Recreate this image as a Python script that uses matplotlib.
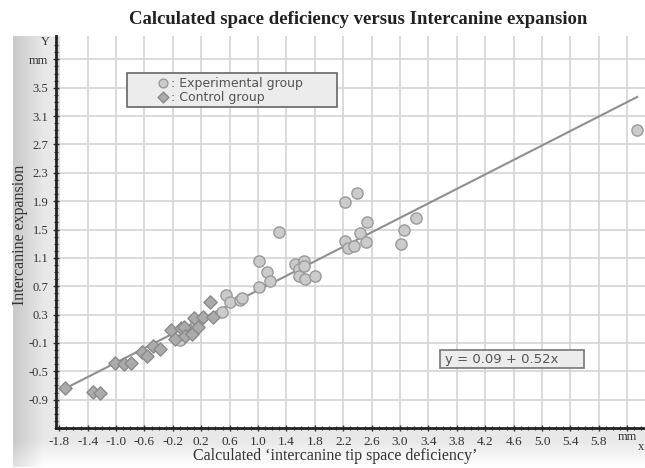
import numpy as np
import matplotlib.pyplot as plt
from matplotlib.patches import Rectangle

# experimental group (circles)
exp_x = [-0.10, 0.02, 0.12, 0.49, 0.55, 0.60, 0.74, 0.77, 1.02, 1.02, 1.12, 1.17, 1.29,
         1.52, 1.57, 1.58, 1.65, 1.65, 1.66, 1.80, 2.23, 2.39, 2.22, 2.26, 2.35, 2.43,
         2.53, 2.52, 3.01, 3.05, 3.23, 6.34]
exp_y = [-0.06, 0.05, 0.18, 0.34, 0.57, 0.48, 0.50, 0.53, 0.69, 1.05, 0.90, 0.77, 1.46,
         1.01, 0.95, 0.84, 1.05, 0.99, 0.80, 0.85, 1.89, 2.02, 1.34, 1.24, 1.27, 1.45,
         1.60, 1.32, 1.29, 1.50, 1.66, 2.91]
# control group (diamonds)
ctl_x = [-1.72, -1.33, -1.23, -1.01, -0.89, -0.79, -0.63, -0.56, -0.48, -0.38, -0.22,
         -0.17, -0.08, -0.04, -0.03, 0.07, 0.10, 0.16, 0.23, 0.33, 0.36]
ctl_y = [-0.73, -0.79, -0.80, -0.39, -0.40, -0.39, -0.23, -0.28, -0.14, -0.18, 0.08,
         -0.05, 0.11, 0.12, 0.00, 0.03, 0.25, 0.13, 0.26, 0.48, 0.26]

# regression line as drawn
line_x = [-1.75, 6.34]
line_y = [-0.76, 3.37]
equation = "y = 0.09 + 0.52x"

x_tick_labels = ['-1.8', '-1.4', '-1.0', '-0.6', '-0.2', '0.2', '0.6', '1.0', '1.4', '1.8',
                 '2.2', '2.6', '3.0', '3.4', '3.8', '4.2', '4.6', '5.0', '5.4', '5.8']
y_tick_labels = ['-0.9', '-0.5', '-0.1', '0.3', '0.7', '1.1', '1.5', '1.9', '2.3', '2.7',
                 '3.1', '3.5']

W, H = 645, 468
fig = plt.figure(figsize=(W / 100, H / 100), dpi=100)
fig.patch.set_facecolor('white')

# grey frame behind the plot area
bg = fig.add_axes([0, 0, 1, 1], zorder=-5)
px = np.arange(W)[None, :]
py = np.arange(H)[:, None]
g = 0.91 + np.zeros((H, W))
g = g - 0.12 * np.clip(1 - (px - 13) / 30, 0, 1)
g = g + 0.09 * np.clip((py - 440) / 26, 0, 1)
inside = (px >= 13) & (py >= 36) & (py <= 466)
g = np.where(inside, g, 1.0)
bg.imshow(np.dstack([g, g, g]), aspect='auto', extent=[0, W, H, 0])
bg.set_xlim(0, W)
bg.set_ylim(H, 0)
bg.axis('off')

ax = fig.add_axes([56 / W, 1 - 428 / H, (W - 56) / W, (428 - 36) / H])
ax.set_facecolor('white')
ax.set_xlim(-1.846, 6.45)
ax.set_ylim(-1.30, 4.23)

xt = [float(s) for s in x_tick_labels]
yt = [float(s) for s in y_tick_labels]
ax.set_xticks(xt + [6.2])
ax.set_xticklabels(x_tick_labels + [''])
ax.set_yticks(yt + [3.9])
ax.set_yticklabels(y_tick_labels + ['mm'])
ax.set_xticks(np.arange(-1.8, 6.45, 0.1), minor=True)
ax.set_yticks(np.arange(-1.3, 4.2, 0.1), minor=True)

ax.grid(True, which='major', color='#d4d4d4', lw=1.2, zorder=0)
for s in ['top', 'right']:
    ax.spines[s].set_visible(False)
for s in ['left', 'bottom']:
    ax.spines[s].set_linewidth(2)
    ax.spines[s].set_color('#222222')
ax.tick_params(which='major', direction='inout', length=5, width=1, color='#333333', pad=3)
ax.tick_params(which='minor', direction='inout', length=3, width=0.8, color='#333333')
for lab in ax.get_xticklabels() + ax.get_yticklabels():
    lab.set_fontfamily('Liberation Serif')
    lab.set_color('#333333')
for lab in ax.get_xticklabels():
    lab.set_fontsize(9.5)
for lab in ax.get_yticklabels():
    lab.set_fontsize(9)

ax.plot(line_x, line_y, color='#8f8f8f', lw=1.5, zorder=3)
ax.scatter(exp_x, exp_y, s=65, marker='o', facecolor='#cbcbcb', edgecolor='#9a9a9a',
           lw=1, zorder=4)
ax.scatter(ctl_x, ctl_y, s=45, marker='D', facecolor='#ababab', edgecolor='#8a8a8a',
           lw=1, zorder=4)

# legend box
def fx(p):
    return (p - 56) / (W - 56)

def fy(p):
    return (428 - p) / (428 - 36)

ax.add_patch(Rectangle((fx(127), fy(107)), fx(337) - fx(127), fy(73) - fy(107),
                       transform=ax.transAxes, facecolor='#ececec', edgecolor='#666666',
                       lw=1.2, zorder=6))
ax.scatter([fx(163)], [fy(83)], s=40, marker='o', facecolor='#cbcbcb', edgecolor='#9a9a9a',
           transform=ax.transAxes, zorder=7)
ax.scatter([fx(163)], [fy(97)], s=30, marker='D', facecolor='#ababab', edgecolor='#8a8a8a',
           transform=ax.transAxes, zorder=7)
ax.text(fx(171), fy(83), ': Experimental group', transform=ax.transAxes, fontsize=9,
        color='#555555', va='center', zorder=7)
ax.text(fx(171), fy(97), ': Control group', transform=ax.transAxes, fontsize=9,
        color='#555555', va='center', zorder=7)

# equation box
ax.add_patch(Rectangle((fx(440), fy(368)), fx(584) - fx(440), fy(350) - fy(368),
                       transform=ax.transAxes, facecolor='#ececec', edgecolor='#777777',
                       lw=1.2, zorder=6))
ax.text(fx(445), fy(359), equation, transform=ax.transAxes, fontsize=9.5,
        color='#555555', va='center', zorder=7)

fig.text(358 / W, 1 - 20 / H, 'Calculated space deficiency versus Intercanine expansion',
         ha='center', va='center', fontsize=13.5, fontweight='bold',
         family='Liberation Serif', color='#222222')
fig.text(20 / W, 1 - 235 / H, 'Intercanine expansion', rotation=90, ha='center',
         va='center', fontsize=11.5, family='Liberation Serif', color='#333333')
fig.text(335 / W, 1 - 456 / H, 'Calculated \u2018intercanine tip space deficiency\u2019',
         ha='center', va='center', fontsize=11.5, family='Liberation Serif', color='#333333')
fig.text(50 / W, 1 - 42 / H, 'Y', ha='right', va='center', fontsize=9,
         family='Liberation Serif', color='#333333')
fig.text(627 / W, 1 - 437 / H, 'mm', ha='center', va='center', fontsize=9,
         family='Liberation Serif', color='#333333')
fig.text(641 / W, 1 - 447 / H, 'x', ha='center', va='center', fontsize=9,
         family='Liberation Serif', color='#333333')

fig.savefig('out.png', dpi=100)
